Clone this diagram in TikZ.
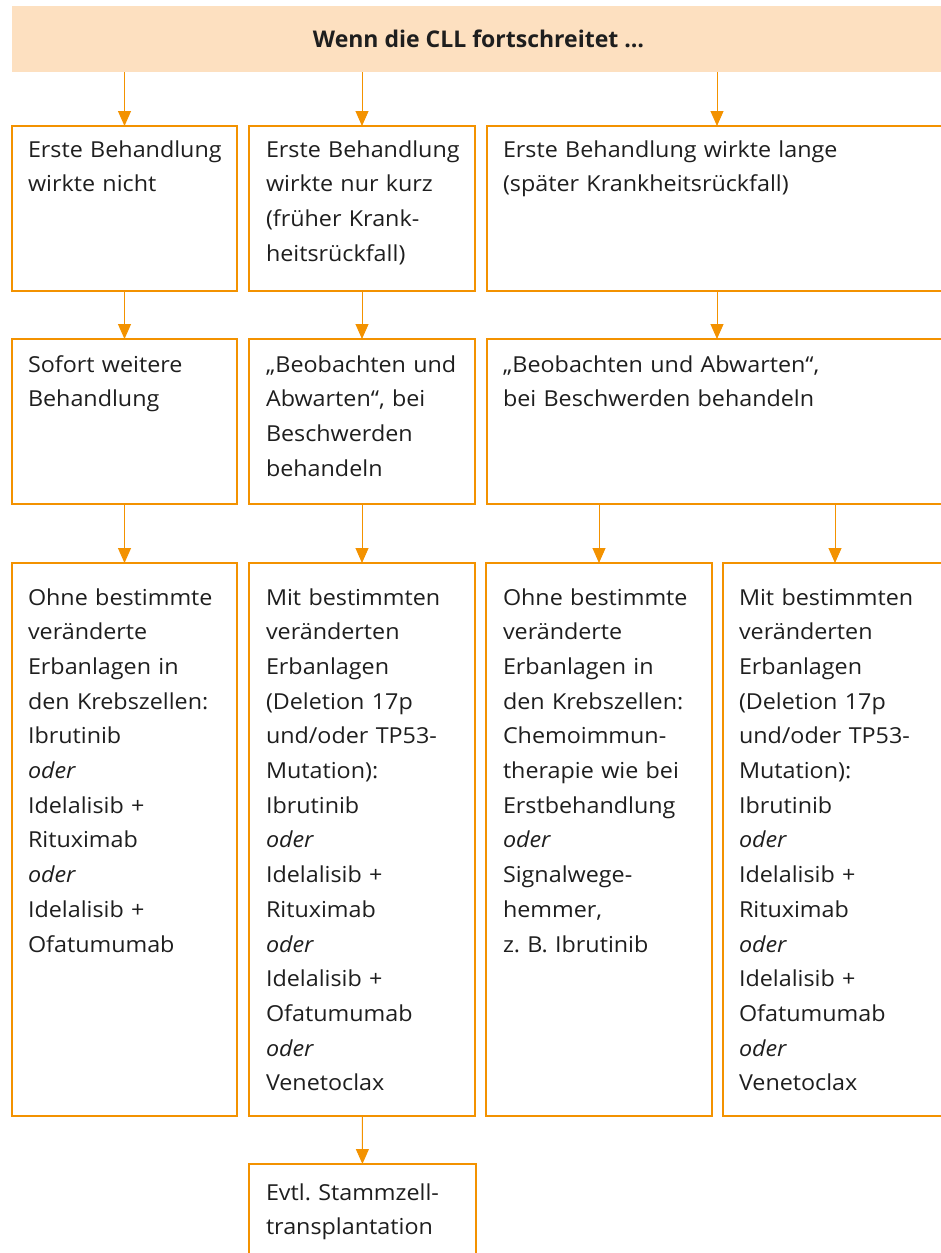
\documentclass[tikz,border=0pt]{standalone}
\usepackage{fontspec}
\setmainfont[FakeStretch=1.06]{Open Sans}
\newfontfamily\headfont{Open Sans}
\usetikzlibrary{arrows.meta}
\definecolor{orng}{RGB}{243,146,0}
\definecolor{peach}{RGB}{253,224,192}
\definecolor{ink}{RGB}{30,30,30}
\begin{document}
\begin{tikzpicture}[x=1pt,y=-1pt,
  box/.style={draw=orng, line width=1.4pt, inner sep=0pt, outer sep=0pt, anchor=north west},
  txt/.style={anchor=base west, inner sep=0pt, outer sep=0pt, text width=#1, align=left, text=ink, font=\fontsize{22}{34.7}\selectfont},
  txt/.default=205pt,
  arr/.style={draw=orng, line width=1pt, -{Triangle[length=15pt,width=13pt]}},
  head/.style={fill=peach, draw=none, inner sep=0pt, outer sep=0pt, anchor=north west, text=ink, font=\headfont\bfseries\fontsize{23}{28}\selectfont}
]
\useasboundingbox (0,0) rectangle (940,1253);
% header
\node[head, minimum width=933pt, minimum height=66pt] (h) at (12,6) {Wenn die CLL fortschreitet \dots};
% row 1
\node[box, minimum width=225pt, minimum height=165pt] (b11) at (12,126) {};
\node[box, minimum width=226pt, minimum height=165pt] (b12) at (249,126) {};
\node[box, minimum width=460pt, minimum height=165pt] (b13) at (487,126) {};
% row 2
\node[box, minimum width=225pt, minimum height=165pt] (b21) at (12,339) {};
\node[box, minimum width=226pt, minimum height=165pt] (b22) at (249,339) {};
\node[box, minimum width=460pt, minimum height=165pt] (b23) at (487,339) {};
% row 3
\node[box, minimum width=225pt, minimum height=553pt] (b31) at (12,563) {};
\node[box, minimum width=226pt, minimum height=553pt] (b32) at (249,563) {};
\node[box, minimum width=226pt, minimum height=553pt] (b33) at (486,563) {};
\node[box, minimum width=224pt, minimum height=553pt] (b34) at (723,563) {};
% row 4
\node[box, minimum width=227pt, minimum height=120pt] (b42) at (249,1164) {};

% texts
\node[txt] (t11) at (28,157) {Erste Behandlung\\wirkte nicht};
\node[txt] (t12) at (266,157) {Erste Behandlung\\wirkte nur kurz\\(früher Krank-\\heitsrückfall)};
\node[txt=430pt] (t13) at (503,157) {Erste Behandlung wirkte lange\\(später Krankheitsrückfall)};

\node[txt] (t21) at (28,372) {Sofort weitere\\Behandlung};
\node[txt] (t22) at (266,372) {„Beobachten und\\Abwarten“, bei\\Beschwerden\\behandeln};
\node[txt=430pt] (t23) at (503,372) {„Beobachten und Abwarten“,\\bei Beschwerden behandeln};

\node[txt] (t31) at (28,605) {Ohne bestimmte\\veränderte\\Erbanlagen in\\den Krebszellen:\\Ibrutinib\\\textit{oder}\\Idelalisib +\\Rituximab\\\textit{oder}\\Idelalisib +\\Ofatumumab};
\node[txt] (t32) at (266,605) {Mit bestimmten\\veränderten\\Erbanlagen\\(Deletion 17p\\und/oder TP53-\\Mutation):\\Ibrutinib\\\textit{oder}\\Idelalisib +\\Rituximab\\\textit{oder}\\Idelalisib +\\Ofatumumab\\\textit{oder}\\Venetoclax};
\node[txt] (t33) at (503,605) {Ohne bestimmte\\veränderte\\Erbanlagen in\\den Krebszellen:\\Chemoimmun-\\therapie wie bei\\Erstbehandlung\\\textit{oder}\\Signalwege-\\hemmer,\\z.\ B. Ibrutinib};
\node[txt] (t34) at (739,605) {Mit bestimmten\\veränderten\\Erbanlagen\\(Deletion 17p\\und/oder TP53-\\Mutation):\\Ibrutinib\\\textit{oder}\\Idelalisib +\\Rituximab\\\textit{oder}\\Idelalisib +\\Ofatumumab\\\textit{oder}\\Venetoclax};

\node[txt] (t42) at (266,1200) {Evtl.\ Stammzell-\\transplantation};

% arrows
\draw[arr] (h.south -| b11.north) -- (b11.north);
\draw[arr] (h.south -| b12.north) -- (b12.north);
\draw[arr] (h.south -| b13.north) -- (b13.north);
\draw[arr] (b11) -- (b21);
\draw[arr] (b12) -- (b22);
\draw[arr] (b13) -- (b23);
\draw[arr] (b21) -- (b31);
\draw[arr] (b22) -- (b32);
\draw[arr] (b23.south -| b33.north) -- (b33.north);
\draw[arr] (b23.south -| b34.north) -- (b34.north);
\draw[arr] (b32) -- (b42);
\end{tikzpicture}
\end{document}
